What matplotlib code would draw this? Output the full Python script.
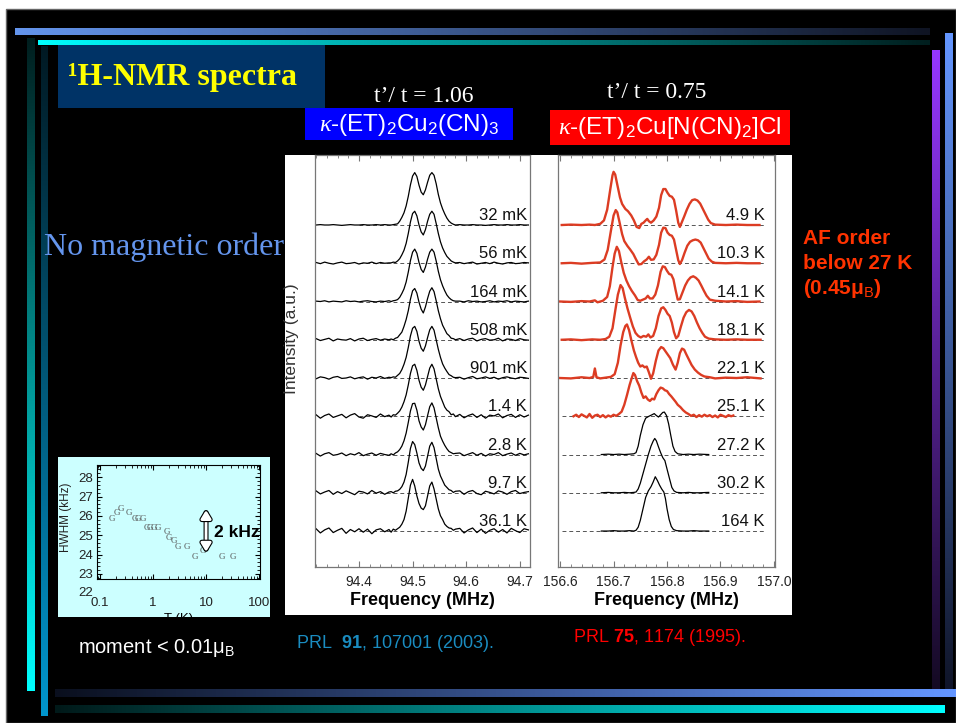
import numpy as np
import matplotlib.pyplot as plt
import matplotlib.patheffects as pe
from matplotlib.patches import Rectangle
from matplotlib.ticker import MultipleLocator, LogLocator, NullFormatter, FormatStrFormatter
from matplotlib.transforms import blended_transform_factory

plt.rcParams['font.family'] = ['Liberation Sans', 'DejaVu Sans']
plt.rcParams['mathtext.fontset'] = 'custom'
plt.rcParams['mathtext.rm'] = 'Liberation Sans'
plt.rcParams['mathtext.it'] = 'Liberation Serif:italic'
plt.rcParams['mathtext.bf'] = 'Liberation Sans:bold'

# ---------------- kappa-(ET)2Cu2(CN)3 : 1H-NMR spectra (intensity in 1/100 of trace spacing)
freq_left = [94.320, 94.328, 94.336, 94.344, 94.352, 94.360, 94.368, 94.376, 94.384,
             94.392, 94.400, 94.408, 94.416, 94.424, 94.432, 94.440, 94.448, 94.456,
             94.460, 94.464, 94.468, 94.472, 94.476, 94.480, 94.484, 94.488, 94.492,
             94.496, 94.500, 94.504, 94.508, 94.512, 94.516, 94.520, 94.524, 94.528,
             94.532, 94.536, 94.540, 94.544, 94.548, 94.552, 94.556, 94.560, 94.564,
             94.568, 94.572, 94.576, 94.580,
             94.588, 94.596, 94.604, 94.612, 94.620, 94.628, 94.636, 94.644, 94.652,
             94.660, 94.668, 94.676, 94.684, 94.692, 94.700, 94.708, 94.716]

labels_left = ['32 mK', '56 mK', '164 mK', '508 mK', '901 mK', '1.4 K', '2.8 K', '9.7 K', '36.1 K']

spec_32mK = ([0, 1, 0, 0, 1, 0, -1, 0, 1, 0, 0, 1, 0, 0, 1, 0, 1, 0]
             + [0, 1, 2, 3, 10, 20, 32, 50, 75, 105, 128, 137, 127, 104, 86, 79, 92, 112, 130, 137,
                130, 108, 80, 58, 42, 29, 18, 10, 5, 2, 0]
             + [1, 0, 0, 1, 0, 0, -1, 0, 1, 0, 0, 1, 0, 0, 1, 0, 0])
spec_56mK = ([2, -1, 3, 0, -2, 1, 3, -1, 0, 2, -2, 1, 0, 3, -1, 2, 0, 1]
             + [1, 3, 2, 6, 12, 22, 34, 52, 78, 108, 130, 136, 124, 100, 82, 74, 88, 110, 128, 136,
                128, 104, 78, 56, 40, 28, 18, 12, 6, 3, 1]
             + [2, -1, 1, 3, -2, 0, 2, -1, 3, 0, -2, 1, 2, -1, 0, 2, 1])
spec_164mK = ([1, 0, 2, -1, 1, 0, -1, 2, 0, 1, -1, 1, 2, 0, -1, 1, 0, 2]
              + [0, 2, 3, 5, 11, 21, 33, 51, 77, 107, 129, 137, 126, 102, 84, 76, 90, 111, 129, 137,
                 129, 106, 79, 57, 41, 28, 17, 10, 5, 2, 1]
              + [1, -1, 2, 0, 1, -1, 0, 2, -1, 1, 0, 2, -1, 1, 0, -1, 1])
spec_508mK = ([3, -2, 1, 4, -3, 2, 0, -1, 3, -3, 2, 4, -2, 1, 3, -1, 2, 0]
              + [2, 0, 4, 6, 13, 20, 35, 53, 76, 106, 128, 134, 122, 98, 80, 70, 86, 108, 127, 136,
                 126, 102, 76, 55, 38, 27, 16, 11, 4, 3, 0]
              + [3, -2, 2, 4, -3, 1, 3, -1, 0, 4, -3, 2, 1, -2, 3, 0, -1])
spec_901mK = ([-2, 3, 1, -3, 2, 4, -1, 0, 3, -2, 1, 3, -3, 2, 0, 4, -1, 2]
              + [1, 3, 2, 7, 12, 22, 36, 54, 80, 110, 130, 135, 122, 96, 78, 70, 84, 106, 126, 135,
                 125, 100, 75, 54, 37, 26, 17, 9, 6, 2, 1]
              + [2, -3, 1, 4, -2, 0, 3, -1, 2, -3, 1, 3, 0, -2, 2, 1, -1])
spec_1_4K = ([4, -5, 2, 6, -3, 1, 5, -4, 3, 7, -2, -5, 4, 1, -3, 6, -1, 3]
             + [-2, 4, 3, 8, 14, 24, 38, 56, 82, 112, 132, 136, 120, 94, 76, 68, 82, 104, 126, 136,
                124, 98, 72, 52, 38, 24, 16, 12, 4, 6, -1]
             + [5, -4, 2, 6, -3, 4, -5, 3, 1, 6, -4, 2, 5, -3, 4, -2, 3])
spec_2_8K = ([3, -4, 2, 5, -2, 0, 4, -3, 2, -1, 5, -3, 1, 4, -2, 3, 0, -2]
             + [2, -1, 4, 7, 13, 22, 36, 56, 84, 114, 133, 134, 116, 88, 72, 64, 78, 102, 125, 135,
                122, 96, 70, 48, 35, 24, 15, 8, 5, 2, 3]
             + [4, -3, 1, 5, -2, 3, -4, 2, 0, 5, -3, 1, 4, -2, 3, -1, 2])
spec_9_7K = ([5, -3, 2, 6, -4, 3, -2, 5, 0, -5, 4, 2, -3, 6, -1, 3, -4, 2]
             + [3, 0, 4, 5, 9, 16, 28, 48, 80, 116, 134, 126, 104, 78, 64, 58, 70, 96, 122, 132,
                118, 90, 62, 44, 32, 20, 14, 8, 6, 1, 4]
             + [5, -4, 3, 6, -2, -5, 4, 1, -3, 5, 2, -4, 3, 6, -2, 1, 3])
spec_36_1K = ([6, -5, 3, 8, -4, 2, 7, -6, 4, -2, 6, -3, 5, -7, 3, 6, -2, 4]
              + [-3, 5, 2, 6, 10, 18, 30, 52, 86, 120, 135, 118, 92, 72, 60, 56, 66, 92, 118, 128,
                 110, 84, 58, 40, 30, 18, 12, 8, 7, 2, 5]
              + [7, -5, 3, 8, -4, 5, -6, 2, 6, -3, 4, -5, 7, 1, -4, 6, 3])
spectra_left = [spec_32mK, spec_56mK, spec_164mK, spec_508mK, spec_901mK,
                spec_1_4K, spec_2_8K, spec_9_7K, spec_36_1K]

# ---------------- kappa-(ET)2Cu[N(CN)2]Cl : (frequency MHz, intensity /100)
labels_right = ['4.9 K', '10.3 K', '14.1 K', '18.1 K', '22.1 K', '25.1 K', '27.2 K', '30.2 K', '164 K']

spec_4_9K = [(156.603, 0), (156.620, 1), (156.640, 0), (156.655, 1), (156.665, 0), (156.675, 3),
             (156.682, 12), (156.688, 40), (156.694, 95), (156.698, 130), (156.700, 139), (156.703, 132),
             (156.707, 105), (156.712, 72), (156.716, 55), (156.722, 42), (156.727, 36), (156.733, 25),
             (156.738, 12), (156.743, -5), (156.748, -8), (156.752, 3), (156.756, 6), (156.760, 12),
             (156.763, 16), (156.766, 10), (156.770, 6), (156.775, 12), (156.780, 22), (156.785, 45),
             (156.789, 78), (156.793, 94), (156.797, 94), (156.801, 84), (156.805, 76), (156.809, 74),
             (156.813, 66), (156.817, 38), (156.821, 6), (156.824, -5), (156.827, 5), (156.832, 22),
             (156.837, 40), (156.842, 55), (156.847, 65), (156.852, 67), (156.857, 64), (156.862, 56),
             (156.867, 42), (156.872, 28), (156.877, 14), (156.882, 5), (156.890, 1), (156.910, 0),
             (156.930, 1), (156.950, 0), (156.973, 0)]
spec_10_3K = [(156.603, 0), (156.620, 1), (156.640, -1), (156.660, 1), (156.675, 2), (156.683, 10),
              (156.689, 35), (156.695, 85), (156.700, 125), (156.704, 139), (156.707, 133), (156.711, 108),
              (156.716, 76), (156.720, 58), (156.726, 45), (156.731, 36), (156.737, 24), (156.742, 10),
              (156.747, -3), (156.752, -2), (156.757, 5), (156.762, 10), (156.766, 17), (156.770, 9),
              (156.775, 10), (156.780, 22), (156.785, 48), (156.789, 80), (156.793, 93), (156.797, 92),
              (156.801, 80), (156.805, 74), (156.809, 72), (156.813, 62), (156.817, 35), (156.821, 8),
              (156.824, -2), (156.828, 8), (156.833, 28), (156.838, 46), (156.843, 56), (156.848, 60),
              (156.853, 62), (156.858, 60), (156.863, 54), (156.868, 40), (156.873, 26), (156.878, 12),
              (156.884, 4), (156.890, 1), (156.910, 0), (156.930, 1), (156.950, 0), (156.973, 0)]
spec_14_1K = [(156.600, 0), (156.620, -1), (156.640, 1), (156.655, 0), (156.665, 3), (156.670, -2),
              (156.680, 2), (156.688, 12), (156.693, 40), (156.698, 90), (156.702, 125), (156.706, 143),
              (156.710, 132), (156.714, 105), (156.719, 75), (156.724, 55), (156.729, 40), (156.734, 28),
              (156.740, 16), (156.745, 4), (156.750, 2), (156.755, 5), (156.760, 8), (156.764, 15),
              (156.768, 8), (156.773, 8), (156.778, 18), (156.783, 42), (156.788, 78), (156.792, 92),
              (156.796, 90), (156.800, 80), (156.804, 72), (156.808, 70), (156.812, 58), (156.816, 30),
              (156.820, 5), (156.824, 6), (156.829, 24), (156.834, 42), (156.839, 55), (156.844, 63),
              (156.849, 66), (156.854, 62), (156.859, 55), (156.864, 42), (156.869, 28), (156.874, 15),
              (156.880, 5), (156.890, 2), (156.910, 0), (156.930, 1), (156.950, -1), (156.973, 0)]
spec_18_1K = [(156.603, 0), (156.620, 1), (156.640, -1), (156.660, 1), (156.675, 0), (156.685, 2),
              (156.692, 8), (156.698, 30), (156.703, 75), (156.708, 118), (156.713, 143), (156.717, 135),
              (156.721, 110), (156.726, 82), (156.731, 58), (156.736, 35), (156.741, 18), (156.746, 10),
              (156.751, 6), (156.756, 10), (156.761, 8), (156.765, 14), (156.769, 6), (156.774, 10),
              (156.779, 30), (156.784, 62), (156.789, 82), (156.793, 85), (156.797, 78), (156.801, 68),
              (156.805, 62), (156.809, 45), (156.813, 20), (156.817, 4), (156.821, 10), (156.826, 35),
              (156.831, 58), (156.836, 72), (156.841, 78), (156.846, 74), (156.851, 62), (156.856, 45),
              (156.861, 30), (156.866, 18), (156.871, 8), (156.878, 3), (156.890, 1), (156.910, 0),
              (156.930, 1), (156.950, 0), (156.975, 0)]
spec_22_1K = [(156.600, 0), (156.620, -1), (156.640, 2), (156.655, 0), (156.662, 3), (156.665, 25),
              (156.668, 2), (156.675, -1), (156.685, 1), (156.695, 3), (156.702, 10), (156.708, 40),
              (156.713, 85), (156.718, 120), (156.722, 136), (156.725, 140), (156.729, 125), (156.733, 100),
              (156.738, 72), (156.742, 55), (156.746, 40), (156.750, 30), (156.754, 33), (156.758, 28),
              (156.762, 30), (156.766, 15), (156.770, -2), (156.774, 12), (156.779, 45), (156.784, 72),
              (156.789, 81), (156.793, 78), (156.797, 70), (156.801, 62), (156.806, 52), (156.811, 35),
              (156.816, 22), (156.820, 40), (156.824, 65), (156.828, 77), (156.832, 74), (156.836, 62),
              (156.841, 48), (156.846, 34), (156.852, 22), (156.858, 14), (156.864, 8), (156.870, 4),
              (156.880, 2), (156.890, -1), (156.910, 1), (156.930, 0), (156.950, 2), (156.975, -1)]
spec_25_1K = [(156.625, 0), (156.630, 4), (156.635, -2), (156.640, 5), (156.645, 1), (156.650, -3),
              (156.655, 6), (156.660, -4), (156.665, 2), (156.670, 4), (156.675, -2), (156.680, 3),
              (156.685, -3), (156.690, 2), (156.695, -1), (156.700, 4), (156.705, 1), (156.710, 6),
              (156.715, 12), (156.720, 30), (156.725, 55), (156.730, 82), (156.734, 100), (156.737, 113),
              (156.740, 108), (156.744, 92), (156.748, 80), (156.752, 62), (156.756, 48), (156.760, 52),
              (156.764, 44), (156.768, 40), (156.772, 46), (156.776, 44), (156.780, 58), (156.784, 68),
              (156.788, 75), (156.792, 73), (156.796, 68), (156.800, 66), (156.804, 58), (156.808, 52),
              (156.812, 45), (156.816, 38), (156.820, 30), (156.825, 24), (156.830, 16), (156.835, 10),
              (156.840, 6), (156.845, 1), (156.850, 4), (156.855, -2), (156.860, 3), (156.865, -1),
              (156.870, 4), (156.875, 0), (156.880, 3), (156.885, -2), (156.890, 2), (156.895, -3),
              (156.900, 4), (156.905, 1), (156.910, -2), (156.915, 3), (156.920, 0), (156.924, 2)]
spec_27_2K = [(156.677, 0), (156.690, 1), (156.700, 0), (156.710, 1), (156.720, 0), (156.730, 1),
              (156.738, 2), (156.742, 5), (156.746, 22), (156.750, 50), (156.755, 78), (156.760, 95),
              (156.766, 100), (156.772, 104), (156.776, 107), (156.780, 102), (156.784, 98), (156.788, 104),
              (156.792, 110), (156.795, 111), (156.799, 102), (156.803, 80), (156.807, 50), (156.811, 22),
              (156.815, 8), (156.820, 2), (156.830, 0), (156.840, 1), (156.850, 0), (156.860, 1),
              (156.878, 0)]
spec_30_2K = [(156.677, 0), (156.690, 1), (156.700, 0), (156.710, 0), (156.720, 1), (156.730, 0),
              (156.738, 1), (156.742, 2), (156.746, 10), (156.750, 25), (156.755, 50), (156.760, 75),
              (156.765, 100), (156.770, 122), (156.774, 135), (156.777, 142), (156.780, 136), (156.784, 120),
              (156.788, 105), (156.792, 92), (156.796, 84), (156.800, 62), (156.805, 35), (156.809, 14),
              (156.813, 5), (156.818, 1), (156.830, 0), (156.840, 1), (156.850, 0), (156.860, 0),
              (156.878, 1)]
spec_164K = [(156.677, 0), (156.690, 0), (156.700, 1), (156.710, 0), (156.720, 0), (156.730, 1),
             (156.738, 0), (156.742, 2), (156.746, 10), (156.750, 28), (156.755, 58), (156.760, 88),
             (156.765, 105), (156.770, 116), (156.774, 128), (156.778, 142), (156.782, 132), (156.786, 120),
             (156.790, 110), (156.794, 102), (156.797, 85), (156.800, 58), (156.804, 30), (156.808, 12),
             (156.812, 4), (156.818, 1), (156.830, 0), (156.840, 0), (156.850, 1), (156.860, 0),
             (156.878, 0)]
spectra_right = [spec_4_9K, spec_10_3K, spec_14_1K, spec_18_1K, spec_22_1K,
                 spec_25_1K, spec_27_2K, spec_30_2K, spec_164K]
ordered_right = [True, True, True, True, True, True, False, False, False]

# ---------------- inset: HWHM vs T
T_K = [0.166, 0.207, 0.249, 0.352, 0.457, 0.528, 0.638, 0.76, 0.877, 1.04, 1.26,
       1.81, 1.95, 2.49, 2.92, 4.32, 6.03, 8.9, 19.8, 32.7]
hwhm_kHz = [25.85, 26.14, 26.37, 26.14, 25.85, 25.85, 25.85, 25.38, 25.38, 25.38, 25.38,
            25.15, 24.86, 24.68, 24.37, 24.37, 23.89, 24.2, 23.89, 23.89]

W, H = 956, 723
fig = plt.figure(figsize=(W / 100, H / 100), dpi=100, facecolor='white')
bg = fig.add_axes([0, 0, 1, 1])
bg.set_xlim(0, W)
bg.set_ylim(H, 0)
bg.axis('off')


def px_axes(x0, y0, x1, y1):
    return fig.add_axes([x0 / W, 1 - y1 / H, (x1 - x0) / W, (y1 - y0) / H])


def grad_bar(x0, x1, y0, y1, c0, c1, horizontal=True):
    t = np.linspace(0, 1, 256)[:, None]
    cols = (1 - t) * np.array(c0) / 255 + t * np.array(c1) / 255
    img = cols[None, :, :] if horizontal else cols[:, None, :]
    bg.imshow(img, extent=(x0, x1, y1, y0), aspect='auto', interpolation='bilinear', zorder=2)


# slide background and decoration
bg.add_patch(Rectangle((6, 9), 950, 714, fc='black', ec='#666666', lw=1.0, zorder=1))
grad_bar(15, 930, 28, 35, (100, 149, 237), (15, 20, 35))
grad_bar(38, 930, 40, 45, (0, 255, 255), (0, 30, 30))
grad_bar(27, 35, 38, 691, (0, 30, 30), (0, 255, 255), horizontal=False)
grad_bar(41, 48, 46, 716, (0, 25, 35), (0, 150, 205), horizontal=False)
grad_bar(932, 940, 50, 690, (150, 55, 255), (20, 10, 35), horizontal=False)
grad_bar(945, 953, 33, 690, (100, 150, 255), (15, 20, 40), horizontal=False)
grad_bar(55, 956, 689, 697, (10, 15, 30), (100, 150, 255))
grad_bar(55, 945, 705, 713, (0, 25, 25), (0, 255, 255))
bg.set_xlim(0, W)
bg.set_ylim(H, 0)

# title and headings
bg.add_patch(Rectangle((58, 45), 267, 63, fc='#003366', ec='none', zorder=3))
bg.text(68, 78, '¹H-NMR spectra', family='Liberation Serif', weight='bold', size=23,
        color='#ffff00', va='center', zorder=4)
bg.text(424, 96, 't’/ t = 1.06', family='Liberation Serif', size=17, color='white',
        ha='center', va='center', zorder=4)
bg.text(657, 93, 't’/ t = 0.75', family='Liberation Serif', size=17, color='white',
        ha='center', va='center', zorder=4)
bg.add_patch(Rectangle((305, 108), 208, 32, fc='#0000ff', ec='none', zorder=3))
bg.text(409, 125, r'$\kappa$-(ET)$_2$Cu$_2$(CN)$_3$', size=17.5, color='white',
        ha='center', va='center', zorder=4)
bg.add_patch(Rectangle((550, 110), 240, 35, fc='#ff0000', ec='none', zorder=3))
bg.text(670, 128, r'$\kappa$-(ET)$_2$Cu[N(CN)$_2$]Cl', size=17.5, color='white',
        ha='center', va='center', zorder=4)

bg.text(44, 247, 'No magnetic order', family='Liberation Serif', size=23, color='#6495ed',
        va='center', zorder=4)
af_lines = ['AF order', 'below 27 K', '(0.45μ$_\\mathrm{B}$)']
for k, line in enumerate(af_lines):
    bg.text(803, 238 + 25.5 * k, line, size=15, weight='bold', color='#ff3300', va='center', zorder=4)

bg.text(78, 648, 'moment < 0.01μ$_\\mathrm{B}$', size=14.5, color='white', va='center', zorder=4)
bg.text(296, 643, r'PRL  $\mathbf{91}$, 107001 (2003).', size=13, color='#1a8cc0', va='center', zorder=4)
bg.text(573, 638, r'PRL $\mathbf{75}$, 1174 (1995).', size=13, color='#ff0000', va='center', zorder=4)

# white panel carrying the two spectra plots
bg.add_patch(Rectangle((285, 155), 507, 460, fc='white', ec='none', zorder=3))

axL = px_axes(315, 155, 530, 567)
axR = px_axes(558, 155, 775, 567)
for ax in (axL, axR):
    ax.set_facecolor('white')
    for sp in ax.spines.values():
        sp.set_color('#777777')
        sp.set_linewidth(0.9)
    ax.tick_params(which='both', direction='in', top=True, bottom=True, left=False, right=False,
                   labelleft=False, color='#777777', labelsize=10, labelcolor='#222222', pad=6)
    ax.tick_params(which='major', length=4)
    ax.tick_params(which='minor', length=2.5)
    ax.xaxis.set_major_locator(MultipleLocator(0.1))
    ax.xaxis.set_minor_locator(MultipleLocator(0.02))
    ax.xaxis.set_major_formatter(FormatStrFormatter('%.1f'))
    ax.set_ylim(-0.94, 9.83)
    ax.set_xlabel('Frequency (MHz)', size=13, weight='bold', labelpad=2)

axL.set_xlim(94.318, 94.719)
axR.set_xlim(156.596, 157.002)
axL.set_ylabel('Intensity (a.u.)', size=12.5, color='#333333')
axL.yaxis.set_label_coords(-0.074, 0.553)

fL = np.array(freq_left)
for k, (lab, spec) in enumerate(zip(labels_left, spectra_left)):
    off = len(labels_left) - 1 - k
    axL.hlines(off, 94.40, 94.716, colors='#555555', linestyles=(0, (4, 3)), lw=0.7, zorder=1)
    axL.plot(fL, off + np.array(spec) / 100.0, color='black', lw=0.9, zorder=2)
    axL.text(94.7135, off + 0.05, lab, ha='right', va='bottom', size=12, color='#111111', zorder=3)

for k, (lab, spec, af) in enumerate(zip(labels_right, spectra_right, ordered_right)):
    off = len(labels_right) - 1 - k
    arr = np.array(spec)
    axR.hlines(off, 156.603, 156.983, colors='#555555', linestyles=(0, (4, 3)), lw=0.7, zorder=1)
    if af:
        axR.plot(arr[:, 0], off + arr[:, 1] / 100.0, color='#dc3c23', lw=1.7, zorder=2)
    else:
        axR.plot(arr[:, 0], off + arr[:, 1] / 100.0, color='black', lw=0.9, zorder=2)
    axR.text(156.983, off + 0.05, lab, ha='right', va='bottom', size=12, color='#111111', zorder=3)

# inset: linewidth vs temperature
inset_bg = Rectangle((58, 457), 212, 160, fc='#ccffff', ec='none', zorder=3)
bg.add_patch(inset_bg)
ax_in = px_axes(97, 465, 260, 579)
ax_in.set_facecolor('none')
ax_in.set_xscale('log')
ax_in.set_xlim(0.088, 104)
ax_in.set_ylim(22.74, 28.63)
ax_in.set_yticks([23, 24, 25, 26, 27, 28])
ax_in.yaxis.set_minor_locator(MultipleLocator(0.2))
ax_in.xaxis.set_major_locator(LogLocator(base=10))
ax_in.xaxis.set_minor_locator(LogLocator(base=10, subs=np.arange(2, 10)))
ax_in.xaxis.set_minor_formatter(NullFormatter())
ax_in.set_xticks([0.1, 1, 10, 100])
ax_in.set_xticklabels(['0.1', '1', '10', '100'])
ax_in.tick_params(which='both', direction='in', top=True, right=True, labelsize=9.5,
                  color='black', labelcolor='#222222', pad=3)
ax_in.tick_params(axis='x', which='major', pad=13)
ax_in.tick_params(which='major', length=3.5)
ax_in.tick_params(which='minor', length=2)
for sp in ax_in.spines.values():
    sp.set_linewidth(0.8)
ax_in.set_ylabel('HWHM (kHz)', size=8.5, color='#222222')
ax_in.yaxis.set_label_coords(-0.153, 0.54)
xl = ax_in.set_xlabel('T (K)', size=9.5, labelpad=3)
xl.set_clip_path(inset_bg)
xl.set_clip_on(True)
ax_in.text(-0.025, 22.0, '22', transform=blended_transform_factory(ax_in.transAxes, ax_in.transData),
           ha='right', va='center', size=9.5, color='#222222', clip_on=False)
for t, h in zip(T_K, hwhm_kHz):
    ax_in.text(t, h, 'G', family='Liberation Serif', size=6.5, color='#555555', ha='center', va='center')
ax_in.annotate('', xy=(10, 24.0), xytext=(10, 26.45),
               arrowprops=dict(arrowstyle='<|-|>,head_width=0.3,head_length=0.5', color='white', lw=2.0,
                               path_effects=[pe.Stroke(linewidth=3.6, foreground='black'), pe.Normal()]))
ax_in.text(0.72, 0.41, '2 kHz', transform=ax_in.transAxes, size=12.5, weight='bold',
           ha='left', va='center', color='black', clip_on=False)

fig.savefig('out.png', dpi=100, facecolor='white')
